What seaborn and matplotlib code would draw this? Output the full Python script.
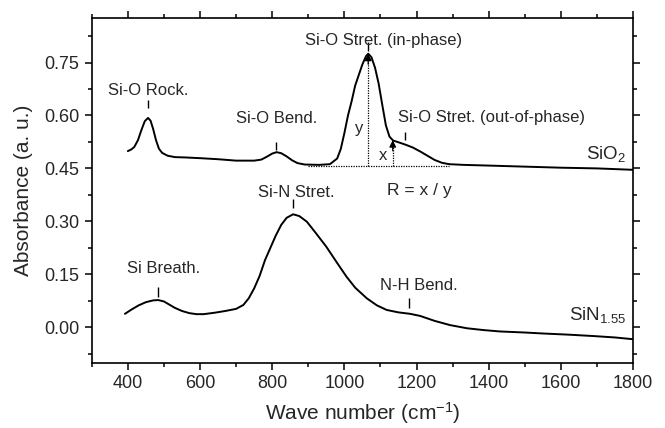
import numpy as np
import pandas as pd
import matplotlib as mpl
mpl.use("Agg")
import matplotlib.pyplot as plt
from matplotlib.ticker import MultipleLocator, FormatStrFormatter
import seaborn as sns

# SiO2 スペクトル
wn_sio2 = [400, 410, 418, 428, 438, 447, 456, 463, 470, 478, 486, 495, 510, 530,
           560, 600, 650, 700, 750, 770, 785, 800, 812, 825, 840, 855, 870, 890,
           930, 960, 980, 990, 1000, 1010, 1020, 1030, 1040, 1050, 1060, 1066,
           1075, 1085, 1095, 1105, 1115, 1125, 1135, 1150, 1170, 1190, 1210,
           1230, 1250, 1270, 1290, 1330, 1400, 1500, 1600, 1700, 1800]
abs_sio2 = [0.499, 0.504, 0.511, 0.530, 0.560, 0.584, 0.593, 0.585, 0.562, 0.530,
            0.506, 0.494, 0.486, 0.482, 0.481, 0.479, 0.476, 0.472, 0.472, 0.475,
            0.483, 0.492, 0.496, 0.493, 0.484, 0.473, 0.465, 0.461, 0.460, 0.462,
            0.478, 0.505, 0.550, 0.600, 0.640, 0.685, 0.715, 0.745, 0.768, 0.775,
            0.765, 0.735, 0.690, 0.630, 0.572, 0.540, 0.529, 0.524, 0.517, 0.509,
            0.498, 0.486, 0.474, 0.466, 0.462, 0.460, 0.458, 0.455, 0.452, 0.450,
            0.446]

# SiN1.55 スペクトル
wn_sin = [392, 410, 430, 450, 470, 484, 500, 515, 530, 550, 570, 590, 610, 640,
          670, 700, 720, 735, 750, 765, 780, 795, 810, 825, 840, 858, 875, 896,
          920, 950, 980, 1006, 1030, 1062, 1090, 1117, 1150, 1182, 1210, 1250,
          1293, 1340, 1385, 1431, 1500, 1555, 1620, 1690, 1750, 1800]
abs_sin = [0.038, 0.050, 0.062, 0.071, 0.076, 0.077, 0.073, 0.064, 0.055, 0.046,
           0.040, 0.037, 0.037, 0.041, 0.046, 0.052, 0.063, 0.082, 0.110, 0.145,
           0.190, 0.225, 0.260, 0.290, 0.310, 0.320, 0.315, 0.299, 0.268, 0.228,
           0.182, 0.143, 0.112, 0.082, 0.062, 0.049, 0.042, 0.038, 0.032, 0.018,
           0.006, -0.003, -0.008, -0.012, -0.015, -0.018, -0.021, -0.025, -0.029,
           -0.034]

# ピーク位置と R = x / y の基準
peak_inphase = 1066
peak_outphase = 1134
baseline = 0.457

sns.set_style("ticks")
plt.rcParams['font.family'] = ['Liberation Sans', 'DejaVu Sans']
plt.rcParams['mathtext.fontset'] = 'custom'
plt.rcParams['mathtext.rm'] = 'Liberation Sans'
plt.rcParams['mathtext.it'] = 'Liberation Sans:italic'
plt.rcParams['mathtext.default'] = 'regular'

df1 = pd.DataFrame({"wn": wn_sio2, "A": abs_sio2})
df2 = pd.DataFrame({"wn": wn_sin, "A": abs_sin})

fig = plt.figure(figsize=(6.65, 4.28), dpi=100)
ax = fig.add_axes([0.138, 0.153, 0.814, 0.804])

sns.lineplot(data=df1, x="wn", y="A", ax=ax, color="k", lw=1.4, sort=False)
sns.lineplot(data=df2, x="wn", y="A", ax=ax, color="k", lw=1.4, sort=False)

y_in = np.interp(peak_inphase, wn_sio2, abs_sio2)
y_out = np.interp(peak_outphase, wn_sio2, abs_sio2)

# 点線と矢印
ax.hlines(baseline, 900, 1290, colors="k", linestyles=(0, (1, 1)), lw=0.9)
ax.vlines(peak_inphase, baseline, y_in - 0.01, colors="k", linestyles=(0, (1, 1)), lw=0.9)
ax.vlines(peak_outphase, baseline, y_out - 0.01, colors="k", linestyles=(0, (1, 1)), lw=0.9)
for xx, yy in [(peak_inphase, y_in), (peak_outphase, y_out)]:
    ax.annotate("", xy=(xx, yy), xytext=(xx, yy - 0.03),
                arrowprops=dict(arrowstyle="-|>", color="k", lw=0.9,
                                mutation_scale=10, shrinkA=0, shrinkB=0))

fs = 12
ax.text(1040, 0.562, "y", fontsize=fs, ha="center", va="center")
ax.text(1106, 0.487, "x", fontsize=fs, ha="center", va="center")

# ラベルとマーカー
labels = [
    ("Si-O Rock.", 457, 0.671, 457, 0.620, 0.645),
    ("Si-O Bend.", 811, 0.591, 811, 0.501, 0.524),
    ("Si-O Stret. (in-phase)", 1108, 0.812, 1066, 0.782, 0.807),
    ("Si-O Stret. (out-of-phase)", 1408, 0.595, 1167, 0.530, 0.552),
    ("Si-N Stret.", 868, 0.382, 857, 0.337, 0.362),
    ("N-H Bend.", 1207, 0.117, 1180, 0.055, 0.083),
    ("Si Breath.", 500, 0.167, 484, 0.087, 0.115),
]
for txt, tx, ty, bx, b0, b1 in labels:
    ax.text(tx, ty, txt, fontsize=fs, ha="center", va="center")
    ax.vlines(bx, b0, b1, colors="k", lw=1.0)

ax.text(1207, 0.388, "R = x / y", fontsize=fs + 0.5, ha="center", va="center")
ax.text(1780, 0.49, "SiO$_2$", fontsize=13.5, ha="right", va="center")
ax.text(1780, 0.035, "SiN$_{1.55}$", fontsize=13.5, ha="right", va="center")

ax.set_xlim(300, 1800)
ax.set_ylim(-0.10, 0.875)
ax.xaxis.set_major_locator(MultipleLocator(200))
ax.xaxis.set_minor_locator(MultipleLocator(100))
ax.yaxis.set_major_locator(MultipleLocator(0.15))
ax.yaxis.set_minor_locator(MultipleLocator(0.075))
ax.yaxis.set_major_formatter(FormatStrFormatter("%.2f"))

ax.tick_params(which="both", direction="out", top=True, right=True, width=1.1,
               labelsize=13, color="k", pad=4)
ax.tick_params(which="major", length=5)
ax.tick_params(which="minor", length=3)
for s in ax.spines.values():
    s.set_linewidth(1.2)
    s.set_color("k")

ax.set_xlabel("Wave number (cm$^{-1}$)", fontsize=15, labelpad=6)
ax.set_ylabel("Absorbance (a. u.)", fontsize=15, labelpad=8)

plt.savefig("out.png", dpi=100)
